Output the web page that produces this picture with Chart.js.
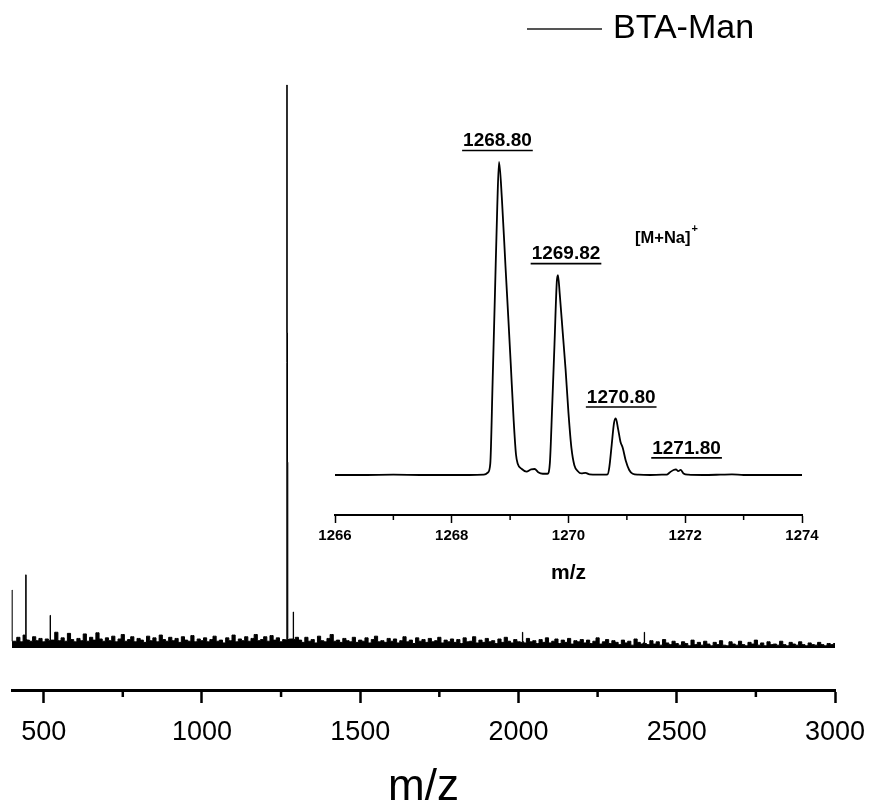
<!DOCTYPE html>
<html>
<head>
<meta charset="utf-8">
<script src="https://cdn.jsdelivr.net/npm/chart.js@4.4.0/dist/chart.umd.min.js"></script>
<style>
  html, body { margin: 0; padding: 0; background: #fff; }
  #wrap { position: relative; width: 872px; height: 805px; }
  #mainChart { position: absolute; left: 0; top: 0; }
  #insetChart { position: absolute; left: 300px; top: 120px; }
</style>
</head>
<body>
<div id="wrap">
  <canvas id="mainChart" width="872" height="805"></canvas>
  <canvas id="insetChart" width="560" height="480"></canvas>
</div>
<script>
// ---- data (relative intensity, main peak = 100) ----
const seriesName = "BTA-Man";

const mainTicks = [500, 1000, 1500, 2000, 2500, 3000];
const mainMinorTicks = [750, 1250, 1750, 2250, 2750];

// baseline noise, sampled every 10 m/z from 410 to 3000
const noiseStart = 410;
const noiseStep = 10;
const noiseLevel = [
  1.2, 1.9, 1.1, 2.3, 1.4, 1.2, 2.0, 1.3, 1.7, 1.1,
  1.6, 1.0, 1.4, 2.8, 1.3, 1.8, 1.2, 2.6, 1.5, 1.1,
  1.7, 1.3, 2.5, 1.2, 1.9, 1.4, 2.7, 1.6, 1.2, 1.8,
  1.3, 2.1, 1.1, 1.6, 2.4, 1.2, 1.5, 2.0, 1.1, 1.7,
  1.4, 1.0, 2.1, 1.3, 1.8, 1.1, 2.3, 1.5, 1.2, 1.9,
  1.3, 1.7, 1.0, 2.0, 1.4, 1.2, 2.2, 1.1, 1.6, 1.3,
  1.8, 1.1, 1.5, 2.1, 1.2, 1.4, 0.9, 1.8, 1.3, 2.3,
  1.1, 1.6, 1.3, 2.0, 1.2, 1.7, 2.4, 1.3, 1.5, 2.0,
  1.2, 2.2, 1.4, 1.8, 1.1, 1.5, 1.3, 1.6, 1.4, 1.9,
  1.4, 1.0, 1.9, 1.2, 1.5, 0.9, 2.1, 1.3, 1.1, 1.7,
  2.4, 1.2, 1.4, 1.0, 1.7, 1.3, 1.1, 1.9, 1.0, 1.4,
  1.2, 1.8, 0.9, 1.5, 2.1, 1.1, 1.3, 1.0, 1.7, 1.2,
  1.6, 0.9, 1.3, 2.0, 1.1, 1.4, 0.8, 1.8, 1.2, 1.5,
  1.0, 1.7, 1.1, 1.3, 1.9, 0.9, 1.4, 1.1, 1.6, 1.0,
  1.5, 0.8, 1.8, 1.1, 1.2, 2.0, 0.9, 1.4, 1.0, 1.7,
  1.1, 1.3, 0.8, 1.6, 1.0, 1.9, 1.2, 0.9, 1.5, 1.1,
  1.4, 0.9, 1.7, 1.1, 1.3, 0.8, 1.5, 1.0, 1.8, 0.9,
  1.2, 1.6, 0.8, 1.4, 1.0, 1.7, 0.7, 1.3, 1.1, 1.5,
  0.9, 1.4, 0.8, 1.2, 1.8, 0.7, 1.1, 1.5, 0.8, 1.3,
  1.0, 0.6, 1.4, 0.9, 1.2, 0.5, 1.6, 1.0, 0.7, 1.2,
  0.6, 1.3, 0.7, 1.1, 0.5, 1.5, 0.9, 0.6, 1.2, 0.8,
  0.5, 1.1, 0.8, 0.4, 1.4, 0.6, 1.0, 0.5, 1.2, 0.7,
  0.4, 1.0, 0.6, 1.3, 0.5, 0.4, 1.1, 0.7, 0.5, 1.2,
  0.6, 0.4, 1.0, 0.7, 1.4, 0.5, 0.9, 0.4, 1.1, 0.6,
  0.7, 0.5, 1.2, 0.6, 0.4, 1.0, 0.7, 0.5, 1.1, 0.6,
  0.4, 0.9, 0.6, 0.5, 1.0, 0.6, 0.4, 0.8, 0.6, 0.8
];

// narrow spikes
const spikeMz  = [400, 401, 443, 444, 445, 520, 521, 522, 1288, 1289, 1290, 2012, 2013, 2014, 2397, 2398, 2399];
const spikeInt = [10.3, 1.2, 1.4, 13.0, 1.5, 1.3, 5.8, 1.4, 1.6, 6.4, 1.5, 1.0, 2.8, 1.1, 0.9, 2.8, 0.8];

// [M+Na]+ cluster as seen in the full spectrum
const peakMz  = [1267.6, 1268.8, 1269.8, 1270.8, 1271.9];
const peakInt = [1.4, 100, 56, 33, 1.5];

// zoomed isotope pattern (inset)
const insetTicks = [1266, 1268, 1270, 1272, 1274];
const insetMinorTicks = [1267, 1269, 1271, 1273];
const insetMz = [
  1266.0, 1266.5, 1267.0, 1267.5, 1268.0, 1268.3,
  1268.55, 1268.62, 1268.66, 1268.70, 1268.74, 1268.78, 1268.81,
  1268.86, 1268.92, 1268.97, 1269.01, 1269.06, 1269.10, 1269.13,
  1269.20, 1269.28, 1269.36, 1269.42, 1269.48, 1269.56, 1269.64,
  1269.68, 1269.72, 1269.76, 1269.80, 1269.82, 1269.85, 1269.90, 1269.95, 1270.00,
  1270.05, 1270.10, 1270.16, 1270.22, 1270.29, 1270.36, 1270.50, 1270.62,
  1270.67, 1270.70, 1270.74, 1270.78, 1270.81, 1270.85, 1270.89, 1270.93, 1270.98, 1271.04, 1271.10,
  1271.20, 1271.40, 1271.60,
  1271.68, 1271.74, 1271.80, 1271.84, 1271.88, 1271.92, 1271.97,
  1272.05, 1272.30, 1272.60, 1272.80, 1273.00, 1273.40, 1274.0
];
const insetInt = [
  0.4, 0.4, 0.5, 0.4, 0.4, 0.4,
  0.5, 1.2, 4, 30, 58, 86, 100,
  88, 67, 50, 36, 18, 7, 4,
  2.3, 1.5, 2.2, 2.3, 1.3, 0.8, 0.8,
  4, 22, 42, 62, 64, 58, 46, 34, 20,
  9, 3.5, 1.6, 0.9, 1.1, 0.6, 0.5, 0.5,
  0.6, 3, 10, 17, 18.4, 15, 11, 9, 5, 2, 0.8,
  0.5, 0.4, 0.5,
  0.5, 1.3, 2.0, 2.2, 1.6, 2.0, 0.9,
  0.5, 0.4, 0.5, 0.6, 0.4, 0.4, 0.4
];

const peakLabels = ["1268.80", "1269.82", "1270.80", "1271.80"];
const peakLabelMz = [1268.80, 1269.82, 1270.80, 1271.80];
const peakLabelInt = [100, 64, 18.4, 2.2];

// ---- build the full spectrum point list ----
function buildSpectrum() {
  const special = spikeMz.concat(peakMz);
  const pts = [];
  noiseLevel.forEach((v, i) => {
    const mz = noiseStart + i * noiseStep;
    if (special.some((s) => Math.abs(s - mz) < 2.5)) return;
    pts.push({ x: mz, y: v });
  });
  spikeMz.forEach((mz, i) => pts.push({ x: mz, y: spikeInt[i] }));
  peakMz.forEach((mz, i) => pts.push({ x: mz, y: peakInt[i] }));
  pts.sort((a, b) => a.x - b.x);
  return pts;
}

Chart.defaults.font.family = "'Liberation Sans', Arial, sans-serif";
Chart.defaults.color = "#000";

const plainNumber = (v) => String(v);

// keep the plot box where the figure has it, labels may overhang
function fixedHeight(h) {
  return (s) => {
    s.height = h;
    s.paddingLeft = 0;
    s.paddingRight = 0;
  };
}

// minor ticks on the x axis
const minorTicks = {
  id: "minorTicks",
  afterDraw(chart, args, opts) {
    const s = chart.scales.x;
    const ctx = chart.ctx;
    ctx.save();
    ctx.strokeStyle = "#000";
    ctx.lineWidth = opts.width;
    opts.values.forEach((v) => {
      const x = s.getPixelForValue(v);
      ctx.beginPath();
      ctx.moveTo(x, s.top);
      ctx.lineTo(x, s.top + opts.length);
      ctx.stroke();
    });
    ctx.restore();
  },
};

// legend drawn at the top right like the original figure
const lineLegend = {
  id: "lineLegend",
  afterDraw(chart) {
    const ctx = chart.ctx;
    ctx.save();
    ctx.strokeStyle = "#555";
    ctx.lineWidth = 2;
    ctx.beginPath();
    ctx.moveTo(527, 29);
    ctx.lineTo(602, 29);
    ctx.stroke();
    ctx.fillStyle = "#000";
    ctx.font = "34px 'Liberation Sans', Arial, sans-serif";
    ctx.textBaseline = "middle";
    ctx.fillText(chart.data.datasets[0].label, 613, 29);
    ctx.restore();
  },
};

// underlined peak labels and ion label in the inset
const peakNotes = {
  id: "peakNotes",
  afterDraw(chart, args, opts) {
    const ctx = chart.ctx;
    const xs = chart.scales.x;
    const ys = chart.scales.y;
    ctx.save();
    ctx.fillStyle = "#000";
    ctx.strokeStyle = "#000";
    ctx.font = "bold 19px 'Liberation Sans', Arial, sans-serif";
    ctx.textAlign = "center";
    ctx.textBaseline = "middle";
    ctx.lineWidth = 1.6;
    peakLabels.forEach((t, i) => {
      const x = xs.getPixelForValue(peakLabelMz[i]) + opts.shift[i];
      const y = ys.getPixelForValue(peakLabelInt[i]) - 21;
      ctx.fillText(t, x, y);
      const w = ctx.measureText(t).width;
      ctx.beginPath();
      ctx.moveTo(x - w / 2 - 1, y + 9.5);
      ctx.lineTo(x + w / 2 + 1, y + 9.5);
      ctx.stroke();
    });
    // [M+Na]+
    ctx.font = "bold 16.5px 'Liberation Sans', Arial, sans-serif";
    ctx.textAlign = "left";
    const ix = chart.chartArea.left + 300;
    const iy = 118;
    ctx.fillText("[M+Na]", ix, iy);
    const w2 = ctx.measureText("[M+Na]").width;
    ctx.font = "bold 11px 'Liberation Sans', Arial, sans-serif";
    ctx.fillText("+", ix + w2 + 1, iy - 9);
    ctx.restore();
  },
};

new Chart(document.getElementById("mainChart"), {
  type: "line",
  data: {
    datasets: [{
      label: seriesName,
      data: buildSpectrum(),
      borderColor: "#000",
      backgroundColor: "#000",
      borderWidth: 1,
      fill: "origin",
      stepped: "middle",
      pointRadius: 0,
      clip: false,
    }],
  },
  options: {
    responsive: false,
    animation: false,
    layout: { padding: { top: 85, left: 12, right: 37, bottom: 0 } },
    plugins: {
      legend: { display: false },
      tooltip: { enabled: false },
      minorTicks: { values: mainMinorTicks, length: 7, width: 2.5 },
    },
    scales: {
      x: {
        type: "linear",
        min: 400,
        max: 3000,
        afterBuildTicks: (s) => { s.ticks = mainTicks.map((v) => ({ value: v })); },
        afterFit: fixedHeight(115),
        border: { display: true, color: "#000", width: 3 },
        grid: { drawOnChartArea: false, drawTicks: true, tickLength: 13, tickWidth: 2.5, tickColor: "#000" },
        ticks: {
          padding: 13,
          maxRotation: 0,
          callback: plainNumber,
          font: { family: "'Liberation Sans Narrow', 'Liberation Sans', Arial, sans-serif", size: 27 },
          color: "#000",
        },
        title: {
          display: true,
          text: "m/z",
          font: { size: 44, lineHeight: 0.78 },
          padding: { top: 0, bottom: 0 },
          color: "#000",
        },
      },
      y: { display: false, min: -7.46, max: 100 },
    },
  },
  plugins: [minorTicks, lineLegend],
});

new Chart(document.getElementById("insetChart"), {
  type: "line",
  data: {
    datasets: [{
      label: "[M+Na]+",
      data: insetMz.map((mz, i) => ({ x: mz, y: insetInt[i] })),
      borderColor: "#000",
      borderWidth: 1.8,
      fill: false,
      pointRadius: 0,
      cubicInterpolationMode: "monotone",
    }],
  },
  options: {
    responsive: false,
    animation: false,
    layout: { padding: { top: 10, left: 35, right: 58, bottom: 0 } },
    plugins: {
      legend: { display: false },
      tooltip: { enabled: false },
      minorTicks: { values: insetMinorTicks, length: 5, width: 1.5 },
      peakNotes: { shift: [-1, 8, 6, 13] },
    },
    scales: {
      x: {
        type: "linear",
        min: 1266,
        max: 1274,
        afterBuildTicks: (s) => { s.ticks = insetTicks.map((v) => ({ value: v })); },
        afterFit: fixedHeight(85),
        border: { display: true, color: "#000", width: 2 },
        grid: { drawOnChartArea: false, drawTicks: true, tickLength: 8, tickWidth: 1.5, tickColor: "#000" },
        ticks: {
          padding: 4,
          maxRotation: 0,
          callback: plainNumber,
          font: { size: 15, weight: "bold" },
          color: "#000",
        },
        title: {
          display: true,
          text: "m/z",
          font: { size: 21, weight: "bold" },
          padding: { top: 0, bottom: 14 },
          color: "#000",
        },
      },
      y: { display: false, min: -12.33, max: 110.18 },
    },
  },
  plugins: [minorTicks, peakNotes],
});
</script>
</body>
</html>
